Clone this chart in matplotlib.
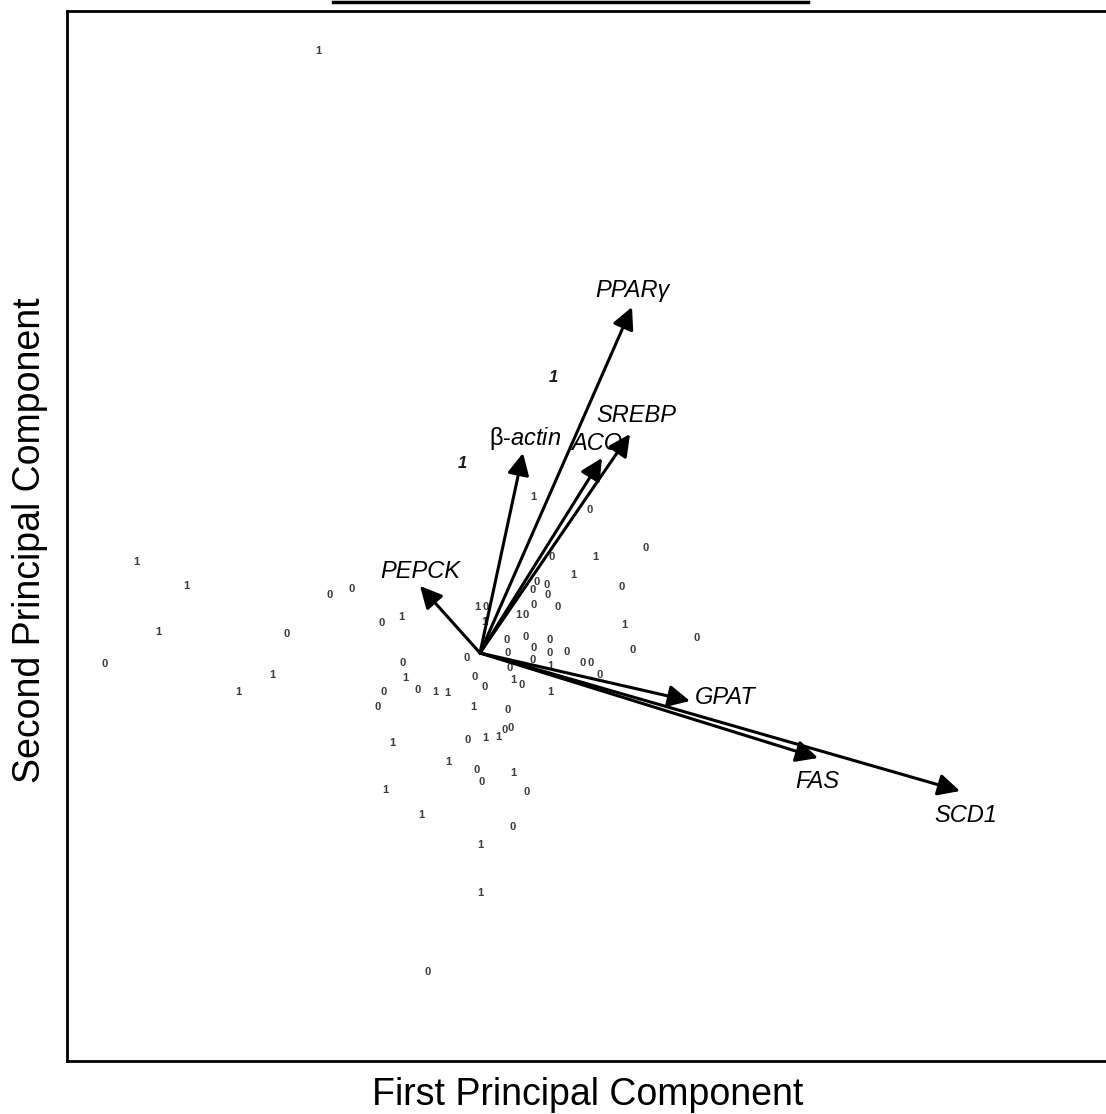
import matplotlib
matplotlib.use("Agg")
import matplotlib.pyplot as plt
from matplotlib.lines import Line2D

plt.rcParams['font.family'] = ['Liberation Sans', 'DejaVu Sans']
plt.rcParams['mathtext.fontset'] = 'custom'
plt.rcParams['mathtext.rm'] = 'Liberation Sans'
plt.rcParams['mathtext.it'] = 'Liberation Sans:italic'

# sample scores on PC1 / PC2, marked by group (0 / 1)
pc1 = [-1.62, -3.44, -2.94, -3.22, -3.75, -2.42, -2.08, -1.93, -1.50, -1.28,
       -0.98, -0.79, -0.77, -0.75, -0.62, -0.45, -0.33, -0.96, -1.02, -0.88,
       -0.95, -0.59, -0.32, -0.07, -0.12, 0.05, 0.18, 0.25, 0.31, 0.28,
       -0.03, 0.02, 0.33, 0.47, 0.33, 0.00, 0.00, -0.52, -0.13, -0.05,
       0.05, 0.30, 0.33, 0.42, 0.70, 0.70, 0.53, 0.27, 0.28, 0.46,
       0.54, 0.70, 0.70, 0.87, 1.03, 1.11, 1.20, -0.03, 0.06, 0.04,
       0.38, 0.46, 0.54, 0.78, 0.57, 0.67, 0.53, 0.68, 0.93, 0.72,
       1.15, 1.42, 1.44, 1.53, 2.17, 1.66, 1.10, 0.53, 0.73, -0.18]
pc2 = [6.02, 0.91, 0.67, 0.21, -0.11, -0.39, -0.22, 0.19, 0.58, 0.64,
       0.30, 0.36, -0.10, -0.25, -0.37, -0.39, -0.40, -0.39, -0.54, -0.90,
       -1.37, -1.62, -1.09, -0.54, -0.87, -0.85, -0.84, -0.77, -0.75, -0.57,
       -1.17, -1.29, -1.20, -1.39, -1.74, -1.92, -2.40, -3.19, -0.05, -0.24,
       -0.34, -0.15, -0.27, -0.32, -0.39, -0.13, -0.07, 0.13, 0.00, 0.16,
       0.05, 0.13, 0.00, 0.01, -0.10, -0.10, -0.22, 0.46, 0.46, 0.31,
       0.38, 0.38, 0.48, 0.46, 0.71, 0.68, 0.63, 0.58, 0.78, 0.96,
       0.96, 0.66, 0.28, 0.03, 0.15, 1.05, 1.43, 1.56, 2.75, 1.90]
group = ['1', '1', '1', '1', '0', '1', '1', '0', '0', '0',
         '0', '1', '0', '1', '0', '1', '1', '0', '0', '1',
         '1', '1', '1', '1', '0', '1', '1', '0', '0', '0',
         '0', '0', '1', '0', '0', '1', '1', '0', '0', '0',
         '0', '0', '1', '0', '1', '1', '0', '0', '0', '0',
         '0', '0', '0', '0', '0', '0', '0', '1', '0', '1',
         '1', '0', '0', '0', '0', '0', '0', '0', '1', '0',
         '1', '0', '1', '0', '0', '0', '0', '1', '1', '1']
bold_pts = [78, 79]

# gene loadings
genes = ['PPARγ', 'SREBP', 'ACO', 'β-$\\mathit{actin}$', 'PEPCK', 'GPAT', 'FAS', 'SCD1']
load1 = [1.52, 1.50, 1.22, 0.43, -0.60, 2.10, 3.38, 4.80]
load2 = [3.46, 2.19, 1.95, 2.00, 0.67, -0.48, -1.05, -1.38]

# label offsets from arrow tips (data units) and alignment
lab_off = {'PPARγ': (0.0, 0.17, 'center', 'center'),
           'SREBP': (0.06, 0.18, 'center', 'center'),
           'ACO': (-0.05, 0.14, 'center', 'center'),
           'β-$\\mathit{actin}$': (0.02, 0.15, 'center', 'center'),
           'PEPCK': (0.0, 0.15, 'center', 'center'),
           'GPAT': (0.05, 0.03, 'left', 'center'),
           'FAS': (-0.01, -0.24, 'center', 'center'),
           'SCD1': (0.06, -0.24, 'center', 'center')}

fig = plt.figure(figsize=(11.06, 11.14), dpi=100)
ax = fig.add_axes([67 / 1106, 53 / 1114, 1 - 67 / 1106, 1050 / 1114])

for i, (x, y, g) in enumerate(zip(pc1, pc2, group)):
    if i in bold_pts:
        ax.text(x, y, g, fontsize=12, fontweight='bold', style='italic',
                color='#1a1a1a', ha='center', va='center')
    else:
        ax.text(x, y, g, fontsize=8, fontweight='bold', color='#3a3a3a',
                ha='center', va='center')

for name, lx, ly in zip(genes, load1, load2):
    ax.annotate('', xy=(lx, ly), xytext=(0, 0),
                arrowprops=dict(arrowstyle='-|>,head_length=0.6,head_width=0.3',
                                lw=2.2, color='black', shrinkA=0, shrinkB=0,
                                mutation_scale=22))
    dx, dy, ha, va = lab_off[name]
    st = 'normal' if 'actin' in name else 'italic'
    ax.text(lx + dx, ly + dy, name, fontsize=17, style=st, ha=ha, va=va)

ax.set_xlim(-4.13, 6.26)
ax.set_ylim(-4.08, 6.42)
ax.set_xticks([])
ax.set_yticks([])
ax.spines['right'].set_visible(False)
for s in ['left', 'top', 'bottom']:
    ax.spines[s].set_linewidth(2)

fig.text(588 / 1106, 1 - 1095 / 1114, 'First Principal Component',
         fontsize=27, ha='center', va='center')
fig.text(30 / 1106, 1 - 540 / 1114, 'Second Principal Component',
         fontsize=27, ha='center', va='center', rotation=90)

fig.add_artist(Line2D([333 / 1106, 808 / 1106], [1 - 1.5 / 1114, 1 - 1.5 / 1114],
                      color='black', lw=2.5, transform=fig.transFigure))

fig.savefig('out.png', dpi=100)
